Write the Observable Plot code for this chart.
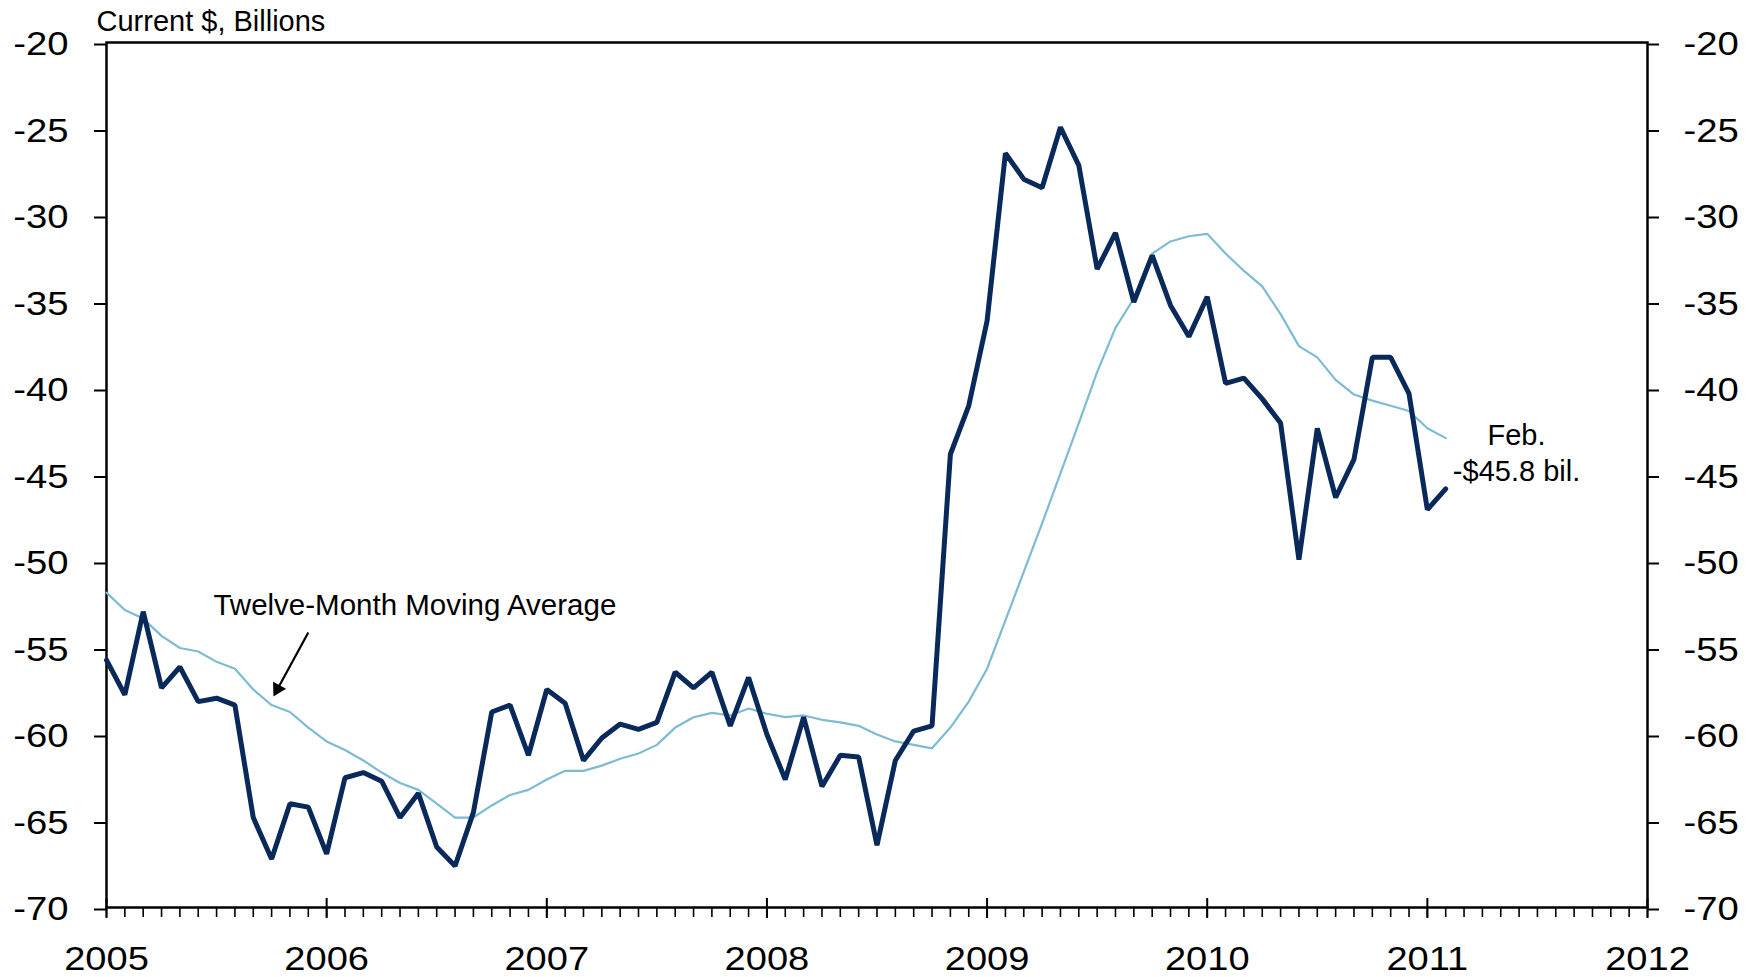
<!DOCTYPE html>
<html>
<head>
<meta charset="utf-8">
<script src="https://cdn.jsdelivr.net/npm/d3@7"></script>
<script src="https://cdn.jsdelivr.net/npm/@observablehq/plot@0.6"></script>
<style>
  html, body { margin: 0; padding: 0; background: #fff; }
  #chart svg { display: block; }
</style>
</head>
<body>
<div id="chart"></div>
<script>
// ---- Data (monthly, Jan 2005 – Feb 2011), current $ billions ----
const startYear = 2005;
const yearTicks = [2005, 2006, 2007, 2008, 2009, 2010, 2011, 2012];
const yTicks = [-70, -65, -60, -55, -50, -45, -40, -35, -30, -25, -20];

const tradeBalance = [
  -55.7, -57.7, -52.9, -57.3, -56.1, -58.1, -57.9, -58.3, -64.8, -67.2, -64.0, -64.2, // 2005
  -66.9, -62.5, -62.2, -62.7, -64.8, -63.4, -66.5, -67.6, -64.5, -58.7, -58.3, -61.2, // 2006
  -57.4, -58.2, -61.5, -60.2, -59.4, -59.7, -59.3, -56.4, -57.3, -56.4, -59.5, -56.7, // 2007
  -60.0, -62.6, -59.0, -63.0, -61.2, -61.3, -66.4, -61.5, -59.8, -59.5, -43.8, -41.0, // 2008
  -36.1, -26.4, -27.9, -28.4, -24.9, -27.1, -33.1, -31.0, -35.0, -32.3, -35.2, -37.0, // 2009
  -34.7, -39.7, -39.4, -40.6, -42.0, -49.9, -42.3, -46.3, -44.1, -38.2, -38.2, -40.3, // 2010
  -47.0, -45.8                                                                         // 2011
];

const movingAverage = [
  -51.8, -52.8, -53.3, -54.3, -55.0, -55.2, -55.8, -56.2, -57.4, -58.3, -58.7, -59.6, // 2005
  -60.4, -60.9, -61.5, -62.2, -62.8, -63.2, -64.0, -64.8, -64.8, -64.1, -63.5, -63.2, // 2006
  -62.6, -62.1, -62.1, -61.8, -61.4, -61.1, -60.6, -59.6, -59.0, -58.75, -58.9, -58.5, // 2007
  -58.8, -59.0, -58.9, -59.15, -59.3, -59.5, -60.0, -60.4, -60.6, -60.8, -59.6, -58.1, // 2008
  -56.2, -53.4, -50.6, -47.8, -44.9, -42.0, -39.05, -36.5, -34.8, -32.2, -31.5, -31.2, // 2009
  -31.06, -32.2, -33.2, -34.1, -35.7, -37.55, -38.2, -39.5, -40.35, -40.7, -41.0, -41.3, // 2010
  -42.3, -42.87                                                                        // 2011
];

const unitLabel = "Current $, Billions";
const maLabel = "Twelve-Month Moving Average";
const lastLabel = "Feb.\n-$45.8 bil.";

// Annotation anchors in data units (month index from Jan 2005, $ billions)
const maLabelAt = { m: 5.83, v: -53.12 };
const arrowFrom = { m: 11.0, v: -54.1 };
const arrowTo = { m: 9.1, v: -57.8 };
const lastLabelAt = { m: 76.86, v: -45.32 };

// ---- Layout ----
const W = 1752, H = 977;
const ML = 106, MR = 105, MT = 42, MB = 70;
const nMonths = (yearTicks[yearTicks.length - 1] - startYear) * 12;
const pxPerMonth = (W - ML - MR) / nMonths;
const pxPerUnit = (H - MT - MB) / (yTicks[yTicks.length - 1] - yTicks[0]);

const rows = tradeBalance.map((v, i) => ({ m: i, balance: v, avg: movingAverage[i] }));
const monthTicks = d3.range(0, nMonths + 1);
const yearMonthTicks = yearTicks.map(y => (y - startYear) * 12);
const yMin = yTicks[0];

// Arrow head geometry (filled triangle at the tip)
const adx = (arrowTo.m - arrowFrom.m) * pxPerMonth;
const ady = -(arrowTo.v - arrowFrom.v) * pxPerUnit;
const alen = Math.hypot(adx, ady);
const ux = adx / alen, uy = ady / alen;
const headR = 5.5;
const headY = headR * Math.sqrt(Math.PI / (3 * Math.sqrt(3)));
const headAngle = Math.atan2(ux, -uy) * 180 / Math.PI;
const headCenter = {
  m: arrowTo.m - ux * 2 * headY / pxPerMonth,
  v: arrowTo.v + uy * 2 * headY / pxPerUnit
};

const FONT = "'Liberation Sans', Arial, Helvetica, sans-serif";
const DARK = "#08295a";
const LIGHT = "#7dbbd4";

const chart = Plot.plot({
  width: W,
  height: H,
  marginLeft: ML,
  marginRight: MR,
  marginTop: MT,
  marginBottom: MB,
  style: { fontFamily: FONT, color: "#000", background: "#fff", overflow: "visible" },
  x: { type: "linear", domain: [0, nMonths], label: null },
  y: { domain: [yTicks[0], yTicks[yTicks.length - 1]], label: null },
  marks: [
    // minor monthly ticks
    Plot.ruleX(monthTicks, { x: d => d, y1: yMin, y2: yMin - 10 / pxPerUnit, stroke: "#000", strokeWidth: 1.6 }),
    // major year ticks (crossing the axis)
    Plot.ruleX(yearMonthTicks, { x: d => d, y1: yMin + 9 / pxPerUnit, y2: yMin - 11 / pxPerUnit, stroke: "#000", strokeWidth: 2 }),
    Plot.axisX(yearMonthTicks, {
      anchor: "bottom", tickSize: 0, tickPadding: 38, fontSize: 34,
      tickFormat: m => String(startYear + m / 12)
    }),
    Plot.axisY(yTicks, { anchor: "left", tickSize: 12, tickPadding: 26, fontSize: 33, strokeWidth: 2, dy: 2, tickFormat: d => String(d) }),
    Plot.axisY(yTicks, { anchor: "right", tickSize: 11, tickPadding: 25, fontSize: 33, strokeWidth: 2, dy: 2, tickFormat: d => String(d) }),
    Plot.frame({ stroke: "#000", strokeWidth: 2.5 }),
    // series
    Plot.line(rows, { x: "m", y: "avg", stroke: LIGHT, strokeWidth: 2.2, strokeLinejoin: "round" }),
    Plot.line(rows, { x: "m", y: "balance", stroke: DARK, strokeWidth: 5, strokeLinejoin: "miter", strokeLinecap: "round" }),
    // annotations
    Plot.text([unitLabel], { frameAnchor: "top-left", text: d => d, dx: -10, dy: -12, textAnchor: "start", lineAnchor: "bottom", fontSize: 29 }),
    Plot.text([maLabelAt], { x: "m", y: "v", text: () => maLabel, textAnchor: "start", lineAnchor: "bottom", fontSize: 29.5 }),
    Plot.link([{ a: arrowFrom, b: headCenter }], {
      x1: d => d.a.m, y1: d => d.a.v, x2: d => d.b.m, y2: d => d.b.v,
      stroke: "#000", strokeWidth: 2.2
    }),
    Plot.dot([headCenter], { x: "m", y: "v", r: headR, symbol: "triangle", rotate: headAngle, fill: "#000", stroke: "none" }),
    Plot.text([lastLabelAt], { x: "m", y: "v", text: () => lastLabel, textAnchor: "middle", lineAnchor: "bottom", lineHeight: 1.24, fontSize: 29 })
  ]
});

// The reference's tick labels are set slightly wide: stretch them horizontally about their anchor.
function stretchText(sel, s) {
  sel.each(function () {
    const x = +(this.getAttribute("x") || 0);
    const t = this.getAttribute("transform") || "";
    this.setAttribute("transform", `${t} translate(${x},0) scale(${s},1) translate(${-x},0)`);
  });
}
stretchText(d3.select(chart).selectAll('g[aria-label="y-axis tick label"] text'), 1.16);
stretchText(d3.select(chart).selectAll('g[aria-label="x-axis tick label"] text'), 1.12);

document.getElementById("chart").appendChild(chart);
</script>
</body>
</html>
